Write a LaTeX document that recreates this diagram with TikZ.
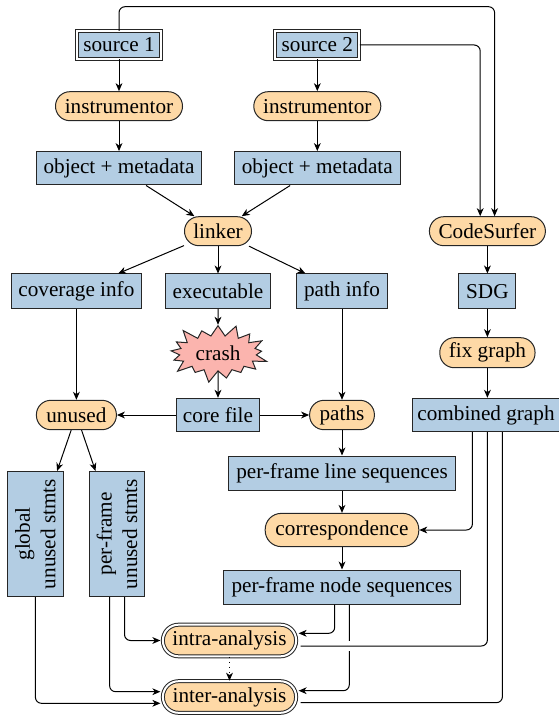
\documentclass[tikz,border=0pt]{standalone}
\usepackage{fontspec}
\setmainfont{Liberation Serif}
\usetikzlibrary{shapes.symbols,arrows.meta,calc}
\definecolor{bfill}{HTML}{B3CDE3}
\definecolor{ofill}{HTML}{FED9A6}
\definecolor{pfill}{HTML}{FBB4AE}
\tikzset{
 every node/.style={font=\fontsize{10.6pt}{12.7pt}\selectfont, inner sep=0pt},
 bbox/.style={draw=black!85, fill=bfill, line width=0.5pt},
 obox/.style={draw=black!85, fill=ofill, line width=0.5pt, rounded corners=7.2pt},
 dbl/.style={double=white, double distance=1pt},
 arr/.style={-{Stealth[length=4pt,width=3.4pt,inset=1.2pt]}, line width=0.5pt, rounded corners=3pt},
 ln/.style={line width=0.5pt, rounded corners=3pt},
}
\begin{document}
\begin{tikzpicture}[x=0.5pt,y=-0.5pt]
\useasboundingbox (0,0) rectangle (558,716);
% nodes
\node[bbox,dbl,minimum width=42pt,minimum height=13.7pt] (s1) at (119,45) {source 1};
\node[bbox,dbl,minimum width=42pt,minimum height=13.7pt] (s2) at (317.3,45) {source 2};
\node[obox,minimum width=63.5pt,minimum height=14.5pt] (i1) at (119,106.2) {instrumentor};
\node[obox,minimum width=63.5pt,minimum height=14.5pt] (i2) at (317.3,106.2) {instrumentor};
\node[bbox,minimum width=82.9pt,minimum height=16.7pt] (o1) at (119,168.3) {object + metadata};
\node[bbox,minimum width=82.9pt,minimum height=16.7pt] (o2) at (317.3,168.3) {object + metadata};
\node[obox,minimum width=33.5pt,minimum height=14.5pt] (lk) at (218,231.2) {linker};
\node[obox,minimum width=58pt,minimum height=14.5pt] (cs) at (487.4,231.2) {CodeSurfer};
\node[bbox,minimum width=65pt,minimum height=17.2pt] (cov) at (76.4,291.2) {coverage info};
\node[bbox,minimum width=52.3pt,minimum height=17.2pt] (ex) at (218,291.2) {executable};
\node[bbox,minimum width=45.4pt,minimum height=17.2pt] (pi) at (342,291.2) {path info};
\node[bbox,minimum width=28.5pt,minimum height=17.2pt] (sdg) at (487.4,291.2) {SDG};
\node[draw=black!85, line width=0.5pt, fill=pfill, starburst, minimum width=52.5pt, minimum height=31.6pt, starburst point height=7pt] (cr) at (218,353.3) {crash};
\node[obox,minimum width=47.6pt,minimum height=15pt] (fg) at (487.4,352.7) {fix graph};
\node[obox,minimum width=40pt,minimum height=14.7pt] (un) at (76.4,415) {unused};
\node[bbox,minimum width=41.7pt,minimum height=16.7pt] (cf) at (218,415) {core file};
\node[obox,minimum width=32.4pt,minimum height=14.7pt] (pa) at (342,415) {paths};
\node[bbox,minimum width=74pt,minimum height=16.7pt] (cg) at (486,415) {combined graph};
\node[bbox,minimum width=113.3pt,minimum height=17pt] (ls) at (342,473) {per-frame line sequences};
\node[obox,minimum width=76.8pt,minimum height=16.6pt,rounded corners=8pt] (co) at (342,530) {correspondence};
\node[bbox,minimum width=118.3pt,minimum height=17pt] (ns) at (342,587) {per-frame node sequences};
\node[obox,dbl,minimum width=66.6pt,minimum height=15.8pt,rounded corners=7.8pt] (ia) at (229.5,640.5) {intra-analysis};
\node[obox,dbl,minimum width=66.6pt,minimum height=15.8pt,rounded corners=7.8pt] (ea) at (229.5,697) {inter-analysis};
\node[bbox,rotate=90,align=center,minimum width=62.5pt,minimum height=27.6pt] (gl) at (35.4,534) {global\\unused stmts};
\node[bbox,rotate=90,align=center,minimum width=62.5pt,minimum height=27.6pt] (pf) at (117,534) {per-frame\\unused stmts};
% helper coordinates
\coordinate (csL) at ([xshift=-3.6pt]cs.north);
\coordinate (csR) at ([xshift=3.6pt]cs.north);
\coordinate (topY) at (0,6.7);
% connectors top
\draw[arr] (s1.north) |- (topY -| csR) -- (csR);
\draw[arr] (s2.east) -| (csL);
\draw[arr] (s1) -- (i1);
\draw[arr] (i1) -- (o1);
\draw[arr] (s2) -- (i2);
\draw[arr] (i2) -- (o2);
\draw[arr] (o1) -- (lk);
\draw[arr] (o2) -- (lk);
\draw[arr] (lk) -- (cov);
\draw[arr] (lk) -- (ex);
\draw[arr] (lk) -- (pi);
\draw[arr] (ex) -- (cr);
\draw[arr] (cr) -- (cf);
\draw[arr] (cov) -- (un);
\draw[arr] (pi) -- (pa);
\draw[arr] (cf) -- (un);
\draw[arr] (cf) -- (pa);
\draw[arr] (cs) -- (sdg);
\draw[arr] (sdg) -- (fg);
\draw[arr] (fg.south) -- (fg.south |- cg.north);
\draw[arr] (un) -- (gl);
\draw[arr] (un) -- (pf);
\draw[arr] (pa) -- (ls);
\draw[arr] (ls) -- (co);
\draw[arr] (co) -- (ns);
% combined graph outputs
\coordinate (cgA) at ($(cg.south -| fg.south)+(-15,0)$);
\coordinate (cgB) at (cg.south -| fg.south);
\coordinate (cgC) at ($(cg.south -| fg.south)+(15,0)$);
\coordinate (nsA) at ($(ns.south)+(-7.3,0)$);
\coordinate (nsB) at ($(ns.south)+(7.3,0)$);
\draw[arr] (cgA) |- (co.east);
\draw[arr, shorten >=1pt] (nsA) |- ($(ia.east)+(0,-7.2)$);
\draw[arr, shorten >=1pt] (nsB) |- ($(ea.east)+(0,-6.3)$);
\coordinate (iaR) at ($(ia.east)+(4,5.5)$);
\coordinate (cross) at (iaR -| nsB);
\draw[white, line width=5pt] ($(cross)+(-3,0)$) -- ($(cross)+(3,0)$);
\draw[ln] (cgB) |- (iaR);
\draw[ln] (cgC) |- ($(ea.east)+(4,5.7)$);
% left outputs
\draw[arr, shorten >=1pt] ($(pf.west)+(7.5,0)$) |- (ia.west);
\draw[arr, shorten >=1pt] ($(pf.west)+(-7.4,0)$) |- ($(ea.west)+(0,-5.3)$);
\draw[arr, shorten >=1pt] (gl.west) |- ($(ea.west)+(0,6.3)$);
\draw[arr, dotted] (ia) -- (ea);
\end{tikzpicture}
\end{document}
